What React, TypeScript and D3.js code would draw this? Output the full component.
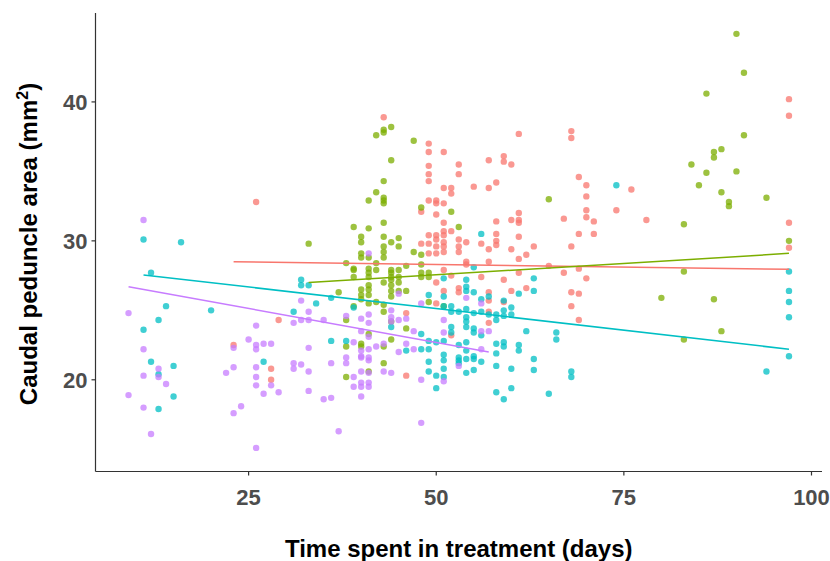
import React from 'react';
import * as d3 from 'd3';

const colors = ['#F8766D', '#7CAE00', '#00BFC4', '#C77CFF'];

// [days, area]
const redPoints = [
  [26, 32.8], [29, 24.3], [23, 22.5], [28, 20.8], [28, 20.0], [43, 38.9], [46, 24.8], [46, 20.3],
  [50, 27.0], [50, 25.5], [48, 32.1], [48, 29.8],
  [49, 37.0], [49, 36.4], [49, 35.4], [49, 34.8], [49, 34.3], [49, 32.9], [49, 30.4], [49, 29.8], [49, 29.1],
  [50, 32.9], [50, 32.7], [50, 31.9], [50, 30.4], [50, 30.1], [50, 29.6], [50, 29.1],
  [51, 36.4], [51, 33.8], [51, 32.7], [51, 31.3], [51, 30.7], [51, 30.4], [51, 29.9], [51, 29.6], [51, 29.2], [51, 27.9], [51, 26.4],
  [52, 33.8], [52, 33.4], [52, 30.7], [52, 27.5], [52, 23.2],
  [53, 35.5], [53, 34.8], [53, 30.1], [53, 29.6], [53, 29.2], [53, 26.6], [53, 26.3],
  [54, 29.9], [54, 28.5], [54, 28.3], [55, 33.9], [56, 29.8], [56, 27.4],
  [57, 35.8], [57, 33.8], [57, 29.4], [57, 28.5], [57, 26.3], [57, 25.7], [57, 24.9], [57, 24.1],
  [58, 34.2], [58, 31.4], [58, 30.5], [58, 30.0], [58, 29.7],
  [59, 36.1], [59, 35.7], [59, 27.2], [59, 25.6],
  [60, 35.5], [60, 31.5], [60, 29.4], [60, 26.4],
  [61, 37.7], [61, 32.0], [61, 31.5], [61, 31.3], [61, 30.3], [61, 28.7], [61, 27.7],
  [62, 29.0], [62, 26.6], [63, 29.6], [65, 28.2], [67, 31.6], [67, 27.7],
  [68, 37.9], [68, 37.4], [68, 29.6], [68, 26.3], [68, 25.3],
  [69, 34.6], [69, 30.5], [69, 28.0], [69, 26.2], [69, 24.3],
  [70, 34.0], [70, 33.2], [70, 32.2], [70, 31.7], [70, 27.3],
  [71, 31.4], [71, 30.5], [74, 32.2], [76, 33.7], [78, 31.5],
  [97, 40.2], [97, 39.0], [97, 31.3], [97, 29.5],
];

const greenPoints = [
  [33, 29.8], [37, 26.3],
  [38, 28.4], [38, 24.3], [38, 22.4], [38, 20.2],
  [39, 31.0], [39, 28.0], [39, 27.9], [39, 27.4], [39, 25.3],
  [40, 30.3], [40, 29.9], [40, 29.1], [40, 28.8], [40, 26.5], [40, 26.1], [40, 25.8], [40, 22.6], [40, 22.4],
  [41, 32.9], [41, 30.9], [41, 28.8], [41, 28.0], [41, 27.7], [41, 27.4], [41, 26.8], [41, 26.5], [41, 26.1], [41, 25.5], [41, 23.3], [41, 20.6],
  [42, 37.6], [42, 33.5], [42, 28.4], [42, 27.9], [42, 25.6],
  [43, 38.0], [43, 37.8], [43, 34.3], [43, 33.1], [43, 32.9], [43, 32.7], [43, 31.3], [43, 30.3], [43, 29.6], [43, 29.2], [43, 28.8], [43, 27.0], [43, 25.4], [43, 24.9], [43, 22.4], [43, 21.2],
  [44, 38.2], [44, 35.8], [44, 29.9], [44, 27.9], [44, 27.7], [44, 27.4], [44, 27.2], [44, 26.8], [44, 26.4], [44, 26.0], [44, 24.2], [44, 22.9],
  [45, 30.2], [45, 29.6], [45, 27.9], [45, 27.4], [45, 27.0], [45, 26.4],
  [46, 28.2], [46, 26.4], [46, 23.7], [47, 37.2], [47, 29.2],
  [48, 32.4], [48, 29.0], [48, 28.3], [48, 27.7], [48, 27.4],
  [49, 27.7], [49, 27.4], [49, 25.6], [51, 25.3], [52, 32.1], [53, 31.0], [65, 33.0],
  [80, 25.9], [83, 31.2], [83, 27.8], [83, 22.9], [84, 35.5], [85, 34.0], [86, 40.6], [86, 34.9],
  [87, 36.4], [87, 36.0], [87, 25.8], [88, 36.6], [88, 33.5], [88, 23.5], [89, 32.8], [89, 32.5],
  [90, 44.9], [90, 35.0], [91, 42.1], [91, 37.6], [94, 33.1], [97, 30.0],
];

const cyanPoints = [
  [11, 30.1], [11, 23.6], [12, 27.7], [12, 21.3], [13, 24.3], [13, 20.4], [13, 17.9], [14, 25.3],
  [15, 21.0], [15, 18.8], [16, 29.9], [20, 25.0], [27, 21.3], [31, 24.9], [32, 27.2], [32, 26.8],
  [33, 26.8], [34, 25.5], [36, 25.9], [36, 22.8], [38, 22.8], [39, 25.2], [44, 23.8], [46, 22.1],
  [48, 23.3], [48, 22.2], [49, 26.1], [49, 22.8], [49, 22.2], [49, 21.3], [49, 20.6],
  [50, 22.7], [50, 20.3], [50, 19.4],
  [51, 27.3], [51, 26.0], [51, 25.3], [51, 22.8], [51, 21.8], [51, 21.4], [51, 20.8], [51, 20.2],
  [52, 25.3], [52, 24.9], [52, 23.8], [52, 23.4],
  [53, 24.9], [53, 22.5], [53, 21.6], [53, 21.4], [53, 21.2],
  [54, 27.2], [54, 26.7], [54, 26.4], [54, 25.1], [54, 24.5], [54, 24.2], [54, 23.8], [54, 22.7], [54, 22.1], [54, 21.5], [54, 20.5],
  [55, 28.1], [55, 26.3], [55, 24.8], [55, 23.7], [55, 23.4], [55, 21.7], [55, 21.5], [55, 20.7],
  [56, 30.5], [56, 25.8], [56, 24.9], [56, 23.2], [56, 21.3],
  [57, 26.0], [57, 24.7],
  [58, 24.7], [58, 24.3], [58, 22.6], [58, 21.9], [58, 21.0], [58, 19.1],
  [59, 25.7], [59, 25.0], [59, 24.6], [59, 22.7], [59, 22.4], [59, 18.6],
  [60, 25.2], [60, 24.7], [60, 20.8], [60, 19.4],
  [61, 26.2], [61, 22.5], [61, 22.1], [62, 23.5],
  [63, 27.3], [63, 26.4], [63, 21.5], [63, 20.7], [65, 19.0], [66, 23.4], [66, 22.9],
  [68, 20.6], [68, 20.2], [74, 34.0], [94, 20.6],
  [97, 27.8], [97, 26.4], [97, 25.6], [97, 24.5], [97, 21.7],
];

const purplePoints = [
  [9, 24.8], [9, 18.9], [11, 31.5], [11, 22.2], [11, 20.3], [11, 18.0], [12, 16.1],
  [13, 20.8], [13, 20.2], [14, 19.7], [22, 20.5], [23, 22.3], [23, 20.9], [23, 17.6], [24, 18.1], [25, 22.9],
  [26, 23.9], [26, 22.5], [26, 22.2], [26, 20.9], [26, 20.2], [26, 19.6], [26, 15.1],
  [27, 22.6], [27, 19.0], [28, 22.6], [28, 19.6], [29, 19.1],
  [31, 24.1], [31, 21.2], [31, 20.8], [32, 25.7], [32, 24.3], [32, 21.1],
  [33, 24.9], [33, 24.3], [33, 22.3], [33, 20.6], [33, 19.2],
  [35, 24.3], [35, 18.6], [36, 21.2], [36, 18.7], [37, 16.3],
  [38, 24.6], [38, 21.6], [38, 21.2], [39, 22.7], [39, 20.2], [39, 19.5],
  [40, 24.4], [40, 23.5], [40, 22.1], [40, 21.7], [40, 21.6], [40, 20.6], [40, 19.8], [40, 19.5], [40, 18.8],
  [41, 29.1], [41, 24.7], [41, 24.1], [41, 23.1], [41, 22.2], [41, 21.6], [41, 21.4], [41, 20.5], [41, 19.8], [41, 19.5],
  [42, 22.4], [43, 22.6], [43, 20.6], [44, 25.0], [44, 24.5], [44, 24.2], [44, 20.5],
  [45, 26.2], [45, 24.3], [45, 22.0], [46, 24.4], [46, 22.6], [47, 23.5], [47, 22.2],
  [48, 25.5], [48, 20.0], [48, 16.9], [51, 24.3], [51, 23.4], [51, 19.9],
  [53, 21.0], [54, 25.9], [56, 25.5], [56, 23.5], [56, 22.2], [57, 23.5],
];

// fitted line ends (days, area) for each group
const fitStart = [[23, 28.5], [33, 27.0], [11, 27.55], [9, 26.7]];
const fitEnd = [[97, 27.95], [97, 29.1], [97, 22.2], [57, 22.0]];

const xTicks = [25, 50, 75, 100];
const yTicks = [20, 30, 40];

const W = 830;
const H = 561;
const left = 95.5;
const right = 822;
const top = 13;
const bottom = 471.5;

export default function App() {
  const x = d3.scaleLinear().domain([4.6, 101.4]).range([left, right]);
  const y = d3.scaleLinear().domain([13.4, 46.4]).range([bottom, top]);
  const line = d3.line<number[]>().x((d) => x(d[0])).y((d) => y(d[1]));

  const groups = [redPoints, greenPoints, cyanPoints, purplePoints];
  const font = "'Liberation Sans', Arial, sans-serif";

  return (
    <svg width={W} height={H} style={{ position: 'absolute', left: 0, top: 0, background: '#fff' }}>
      {groups.map((pts, i) => (
        <g key={i} fill={colors[i]} fillOpacity={0.75}>
          {pts.map((d, j) => (
            <circle key={j} cx={x(d[0])} cy={y(d[1])} r={3.2} />
          ))}
        </g>
      ))}
      {groups.map((_, i) => (
        <path key={i} d={line([fitStart[i], fitEnd[i]]) || ''} stroke={colors[i]} strokeWidth={1.5} fill="none" />
      ))}

      {/* axes */}
      <line x1={left} x2={left} y1={top} y2={bottom} stroke="#333" strokeWidth={1.2} />
      <line x1={left} x2={right} y1={bottom} y2={bottom} stroke="#333" strokeWidth={1.2} />
      {xTicks.map((t) => (
        <g key={t}>
          <line x1={x(t)} x2={x(t)} y1={bottom} y2={bottom + 4} stroke="#333" strokeWidth={1.2} />
          <text x={x(t)} y={bottom + 33} textAnchor="middle" fontFamily={font} fontWeight="bold" fontSize={22} fill="#4D4D4D">
            {t}
          </text>
        </g>
      ))}
      {yTicks.map((t) => (
        <g key={t}>
          <line x1={left - 4} x2={left} y1={y(t)} y2={y(t)} stroke="#333" strokeWidth={1.2} />
          <text x={left - 8} y={y(t)} dy="0.36em" textAnchor="end" fontFamily={font} fontWeight="bold" fontSize={22} fill="#4D4D4D">
            {t}
          </text>
        </g>
      ))}

      <text x={(left + right) / 2} y={557} textAnchor="middle" fontFamily={font} fontWeight="bold" fontSize={24} fill="#000">
        Time spent in treatment (days)
      </text>
      <text transform={`translate(37, 244) rotate(-90)`} textAnchor="middle" fontFamily={font} fontWeight="bold" fontSize={24} fill="#000">
        Caudal peduncle area (mm<tspan dy={-9} fontSize={16}>2</tspan><tspan dy={9}>)</tspan>
      </text>
    </svg>
  );
}
